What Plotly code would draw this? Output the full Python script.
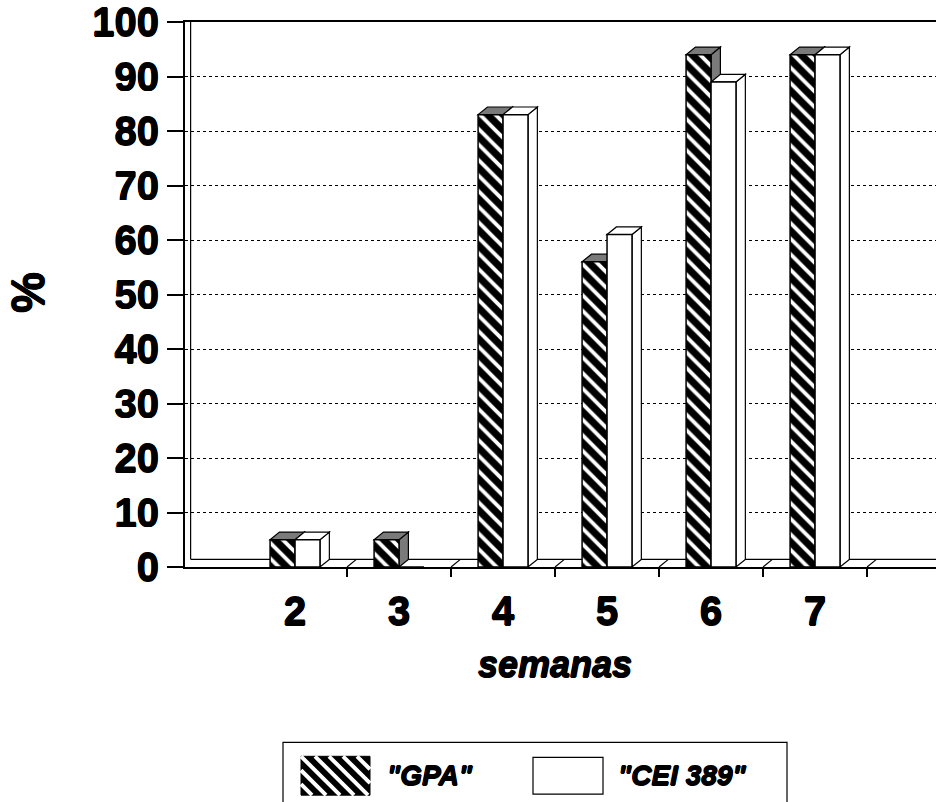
import plotly.graph_objects as go

# ---- data ----
weeks = [2, 3, 4, 5, 6, 7]
gpa = [5, 5, 83, 56, 94, 94]
cei = [5, 0, 83, 61, 89, 94]
series_names = ['"GPA"', '"CEI 389"']
y_ticks = list(range(0, 101, 10))
x_title = "semanas"
y_title = "%"

# ---- layout geometry ----
W, H = 936, 802
L, R, T, B = 185, 0, 20, 235
pw, ph = W - L - R, H - T - B
XR = [0.942, 8.163]


def px(x):
    return (x - L) / pw


def py(y):
    return (H - B - y) / ph


FONT = "Liberation Sans, Arial, sans-serif"
SH = "0.6px 0 0 black, -0.6px 0 0 black, 0 0.6px 0 black, 0 -0.6px 0 black"
bw = 0.24
dx, dy = 0.09, 1.4

fig = go.Figure()
fig.add_bar(
    x=weeks, y=gpa, width=bw, offset=-bw, name=series_names[0], showlegend=False,
    marker=dict(color="black", line=dict(color="black", width=1.5),
                pattern=dict(shape="\\", fgcolor="white", bgcolor="black",
                             size=11, solidity=0.35, fillmode="replace")),
)
fig.add_bar(
    x=weeks, y=cei, width=bw, offset=0, name=series_names[1], showlegend=False,
    marker=dict(color="white", line=dict(color="black", width=1.5)),
)

shapes = []
# back wall / floor lines of the 3D frame
shapes.append(dict(type="line", xref="x", yref="y", x0=XR[0] + dx * 0.6, x1=XR[0] + dx * 0.6,
                   y0=dy, y1=100, line=dict(color="black", width=1.2), layer="between"))
shapes.append(dict(type="line", xref="x", yref="y", x0=XR[0] + dx * 0.6, x1=XR[1],
                   y0=dy, y1=dy, line=dict(color="black", width=1.2), layer="between"))
for t in [w + 0.5 for w in weeks]:
    shapes.append(dict(type="line", xref="x", yref="y", x0=t, x1=t + dx, y0=0, y1=dy,
                       line=dict(color="black", width=1.2), layer="between"))

# 3D faces computed from the data
for vals, off, fill in [(gpa, -bw, "#7a7a7a"), (cei, 0, "white")]:
    for w, v in zip(weeks, vals):
        if v <= 0:
            continue
        x0 = w + off
        x1 = x0 + bw
        side = f"M {x1},0 L {x1+dx},{dy} L {x1+dx},{v+dy} L {x1},{v} Z"
        top = f"M {x0},{v} L {x0+dx},{v+dy} L {x1+dx},{v+dy} L {x1},{v} Z"
        for p in (side, top):
            shapes.append(dict(type="path", path=p, xref="x", yref="y",
                               fillcolor=fill, line=dict(color="black", width=1.2),
                               layer="between"))

# custom legend
shapes.append(dict(type="rect", xref="paper", yref="paper",
                   x0=px(283), x1=px(787), y0=py(743), y1=py(820),
                   line=dict(color="black", width=1.2), fillcolor="rgba(0,0,0,0)"))
shapes.append(dict(type="rect", xref="paper", yref="paper",
                   x0=px(301), x1=px(370), y0=py(757), y1=py(796),
                   line=dict(color="black", width=1), fillcolor="black"))
stripe_path = ""
for k in range(-2, 6):
    xs = 301 + k * 14
    xa, ya, xb, yb = xs, 757, xs + 39, 796
    if xa < 301:
        ya += 301 - xa
        xa = 301
    if xb > 370:
        yb -= xb - 370
        xb = 370
    if ya >= yb:
        continue
    stripe_path += f"M {px(xa)},{py(ya)} L {px(xb)},{py(yb)} "
shapes.append(dict(type="path", xref="paper", yref="paper", path=stripe_path,
                   line=dict(color="white", width=4)))
shapes.append(dict(type="rect", xref="paper", yref="paper",
                   x0=px(533), x1=px(603), y0=py(758), y1=py(795),
                   line=dict(color="black", width=1.2), fillcolor="white"))

annotations = [
    dict(text=f"<b><i>{series_names[0]}</i></b>", x=px(385), y=py(776), xref="paper", yref="paper",
         xanchor="left", yanchor="middle", showarrow=False,
         font=dict(size=28, family=FONT, color="black", shadow=SH)),
    dict(text=f"<b><i>{series_names[1]}</i></b>", x=px(616), y=py(776), xref="paper", yref="paper",
         xanchor="left", yanchor="middle", showarrow=False,
         font=dict(size=28, family=FONT, color="black", shadow=SH)),
    dict(text=f"<b><i>{x_title}</i></b>", x=px(555), y=py(665), xref="paper", yref="paper",
         xanchor="center", yanchor="middle", showarrow=False,
         font=dict(size=36, family=FONT, color="black", shadow=SH)),
    dict(text=f"<b>{y_title}</b>", x=px(28), y=py(292), xref="paper", yref="paper", textangle=-90,
         xanchor="center", yanchor="middle", showarrow=False,
         font=dict(size=46, family=FONT, color="black", shadow=SH)),
]

fig.update_layout(
    width=W, height=H,
    margin=dict(l=L, r=R, t=T, b=B, pad=0),
    paper_bgcolor="white", plot_bgcolor="white",
    barmode="overlay",
    shapes=shapes, annotations=annotations,
    showlegend=False,
    font=dict(family=FONT, color="black"),
)
fig.update_xaxes(
    range=XR,
    tickvals=weeks, ticktext=[f"<b>{w}</b>" for w in weeks],
    tickfont=dict(size=40, family=FONT, color="black", shadow=SH),
    ticks="", ticklabelstandoff=8,
    showgrid=False, zeroline=False,
    showline=True, linecolor="black", linewidth=2, mirror=True,
    minor=dict(tickmode="array", tickvals=[w + 0.5 for w in weeks],
               ticks="outside", ticklen=8, tickcolor="black", tickwidth=1.5, showgrid=False),
)
fig.update_yaxes(
    range=[0, 100],
    tickvals=y_ticks, ticktext=[f"<b>{t}</b>" for t in y_ticks],
    tickfont=dict(size=40, family=FONT, color="black", shadow=SH),
    ticklabeloverflow="allow",
    ticks="outside", ticklen=16, tickcolor="black", tickwidth=1.5,
    showgrid=True, gridcolor="black", gridwidth=1, griddash="dot",
    zeroline=False,
    showline=True, linecolor="black", linewidth=2,
)

fig.write_html("out.html")
